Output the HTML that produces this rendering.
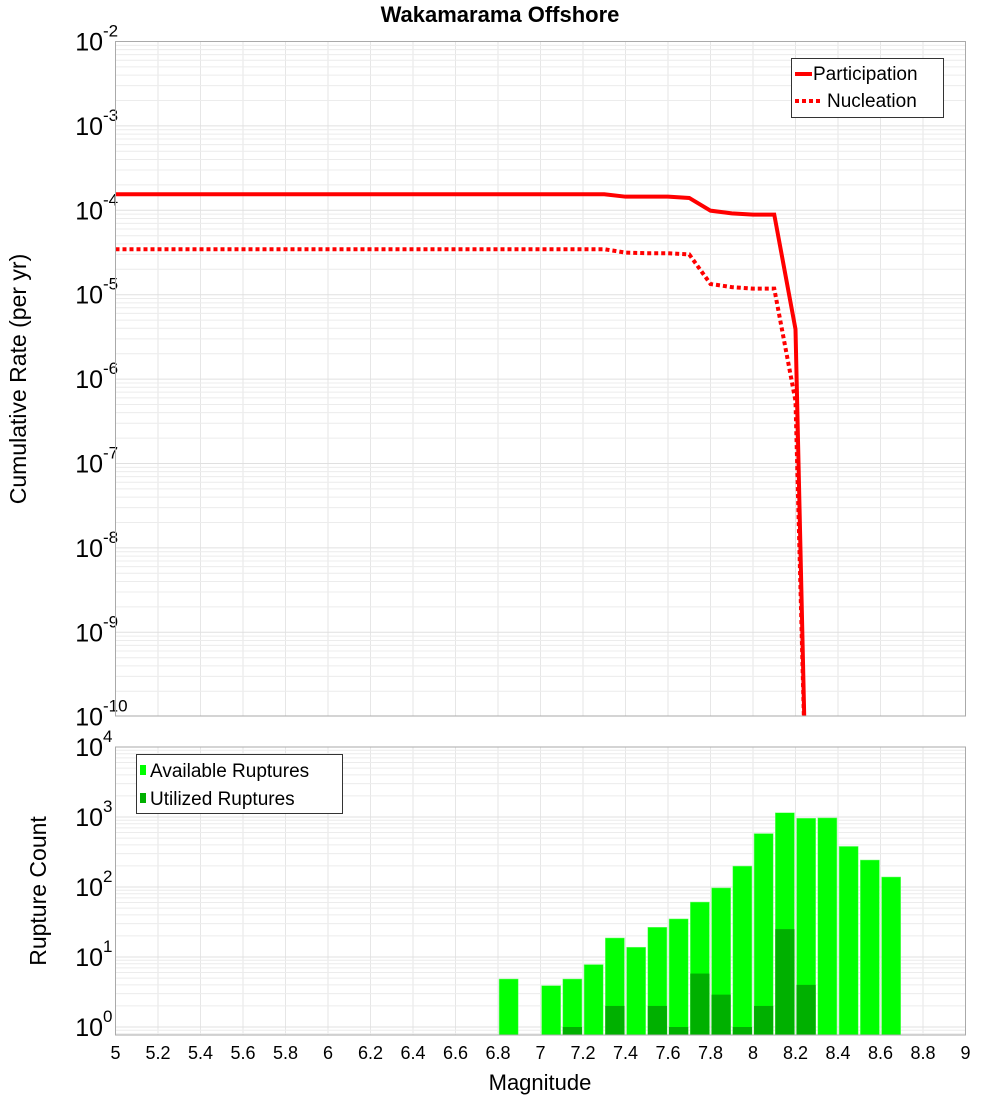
<!DOCTYPE html>
<html><head><meta charset="utf-8"><style>
body{margin:0;background:#fff;width:1000px;height:1100px;overflow:hidden}
svg{display:block;font-family:"Liberation Sans","DejaVu Sans",sans-serif}
</style></head><body>
<svg id="c" width="1000" height="1100"></svg>
<script>
const mags=[5.0,7.3,7.4,7.5,7.6,7.7,7.8,7.9,8.0,8.1,8.2,8.25];
const participation=[1.55e-4,1.55e-4,1.45e-4,1.45e-4,1.45e-4,1.4e-4,9.9e-5,9.2e-5,8.9e-5,8.9e-5,3.9e-6,1e-11];
const nucleation=[3.46e-5,3.46e-5,3.15e-5,3.1e-5,3.1e-5,3.0e-5,1.34e-5,1.23e-5,1.18e-5,1.18e-5,5.5e-7,1e-11];
const binCenters=[6.85,7.05,7.15,7.25,7.35,7.45,7.55,7.65,7.75,7.85,7.95,8.05,8.15,8.25,8.35,8.45,8.55,8.65];
const available=[4.85,3.9,4.85,7.8,18.7,13.8,26.6,35,61,97,199,580,1150,960,970,380,243,139];
const utilized=[0,0,1,0,2,0,2,1,5.8,2.9,1,2,25,4,0,0,0,0];
const xTicks=["5","5.2","5.4","5.6","5.8","6","6.2","6.4","6.6","6.8","7","7.2","7.4","7.6","7.8","8","8.2","8.4","8.6","8.8","9"];

const NS="http://www.w3.org/2000/svg",svg=document.getElementById('c');
function el(t,a,p){const e=document.createElementNS(NS,t);for(const k in a)e.setAttribute(k,a[k]);(p||svg).appendChild(e);return e;}
const L=115.5,R=965.5;
const x=m=>L+(m-5)*(R-L)/4;
const T1=41.5,B1=716;
const y1=v=>T1+(-2-Math.log10(v))*84.4;
const T2=747,B2=1035;
const y2=v=>Math.min(B2,1027-Math.log10(v)*70);

// title
let t=el('text',{x:500,y:22,'text-anchor':'middle','font-size':22,'font-weight':'bold'});t.textContent='Wakamarama Offshore';


function panel(T,B,ydec,yf,name){
  const g=el('g',{});
  el('rect',{x:L,y:T,width:R-L,height:B-T,fill:'#fff'},g);
  for(let i=0;i<xTicks.length;i++){const xx=x(+xTicks[i]);el('line',{x1:xx,x2:xx,y1:T,y2:B,stroke:'#e6e6e6'},g);}
  for(let d=ydec[0];d<ydec[1];d++)for(let k=1;k<10;k++){const yy=yf(k*Math.pow(10,d));if(yy<T||yy>B)continue;el('line',{x1:L,x2:R,y1:yy,y2:yy,stroke:k==1?'#e0e0e0':'#ececec'},g);}
  return g;
}
function frame(T,B,name){const r=el('rect',{x:L,y:T,width:R-L,height:B-T,fill:'none',stroke:'#aaa'});}
function ylab(d,yy,name){const tx=el('text',{x:103,y:yy+9,'text-anchor':'end','font-size':25});tx.textContent='10';
  const s=el('text',{x:103,y:yy-5,'font-size':17});s.textContent=String(d);
  }

panel(T1,B1,[-10,-2],y1,'top');
for(let d=-2;d>=-10;d--)ylab(d,y1(Math.pow(10,d)),'y-tick-label');
// lines
function line(vals,dash,name){
  const cl=el('clipPath',{id:'cp'+name});el('rect',{x:L,y:T1,width:R-L,height:B1-T1},cl);
  const p=el('polyline',{points:mags.map((m,i)=>x(m)+','+y1(vals[i])).join(' '),fill:'none',stroke:'#ff0000','stroke-width':4,'clip-path':'url(#cp'+name+')'});
  if(dash)p.setAttribute('stroke-dasharray','4,3');
  
}
line(participation,false,'participation-line');
line(nucleation,true,'nucleation-line');
frame(T1,B1,'top-plot');
// top legend
const lg=el('g',{});
el('rect',{x:791.5,y:58.5,width:152,height:59,fill:'#fff',stroke:'#333'},lg);
el('line',{x1:795,x2:812,y1:74,y2:74,stroke:'#f00','stroke-width':4},lg);
el('line',{x1:795,x2:822,y1:101,y2:101,stroke:'#f00','stroke-width':4,'stroke-dasharray':'4,3'},lg);
let a=el('text',{x:813,y:80,'font-size':19},lg);a.textContent='Participation';
a=el('text',{x:827,y:107,'font-size':19},lg);a.textContent='Nucleation';
t=el('text',{x:0,y:0,'font-size':23,'text-anchor':'middle',transform:'translate(26,379) rotate(-90)'});t.textContent='Cumulative Rate (per yr)';


// bottom
panel(T2,B2,[-1,4],y2,'bottom');
for(let d=4;d>=0;d--)ylab(d,y2(Math.pow(10,d)),'count-tick-label');
const bw=(x(0.09)-x(0));
binCenters.forEach((m,i)=>{
  if(available[i]>0){const r=el('rect',{x:x(m)-bw/2,y:y2(available[i]),width:bw,height:B2-y2(available[i]),fill:'#00ff00',stroke:'#7fff7f','stroke-width':0.5});
  }
  if(utilized[i]>0){const r=el('rect',{x:x(m)-bw/2,y:y2(utilized[i]),width:bw,height:B2-y2(utilized[i]),fill:'#00b000'});
  }
});
frame(T2,B2,'bottom-plot');
const lg2=el('g',{});
el('rect',{x:136.5,y:754.5,width:206,height:59,fill:'#fff',stroke:'#333'},lg2);
el('rect',{x:140,y:765,width:6,height:10,fill:'#00ff00'},lg2);
el('rect',{x:140,y:793,width:6,height:10,fill:'#00b000'},lg2);
a=el('text',{x:150,y:777,'font-size':19},lg2);a.textContent='Available Ruptures';
a=el('text',{x:150,y:805,'font-size':19},lg2);a.textContent='Utilized Ruptures';
t=el('text',{x:0,y:0,'font-size':23,'text-anchor':'middle',transform:'translate(46,891) rotate(-90)'});t.textContent='Rupture Count';

xTicks.forEach(s=>{const tx=el('text',{x:x(+s),y:1059,'text-anchor':'middle','font-size':18});tx.textContent=s;
  });
t=el('text',{x:540,y:1090,'font-size':22,'text-anchor':'middle'});t.textContent='Magnitude';

</script>
</body></html>
